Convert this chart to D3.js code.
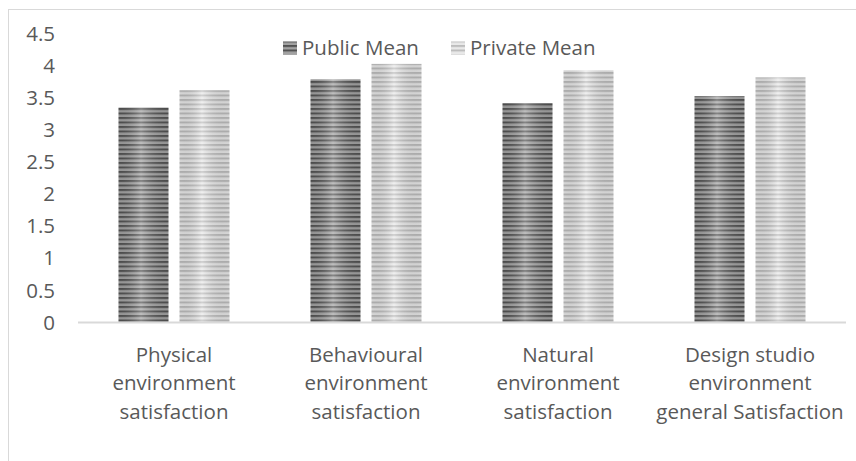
<!DOCTYPE html>
<html>
<head>
<meta charset="utf-8">
<script src="https://cdn.jsdelivr.net/npm/d3@7"></script>
<style>
  html, body { margin: 0; padding: 0; background: #fff; }
  svg { display: block; }
  text { font-family: "Open Sans", "Noto Sans", sans-serif; fill: #595959; }
</style>
</head>
<body>
<svg id="chart" width="856" height="461"></svg>
<script>
const categories = [
  ["Physical", "environment", "satisfaction"],
  ["Behavioural", "environment", "satisfaction"],
  ["Natural", "environment", "satisfaction"],
  ["Design studio", "environment", "general Satisfaction"]
];
const seriesNames = ["Public Mean", "Private Mean"];
const publicMean = [3.34, 3.78, 3.41, 3.52];
const privateMean = [3.61, 4.02, 3.92, 3.81];
const yTicks = [0, 0.5, 1, 1.5, 2, 2.5, 3, 3.5, 4, 4.5];

const FS = 20.5;
const svg = d3.select("#chart");
const plot = { left: 78, right: 846, top: 33.1, bottom: 322 };

// patterns
const defs = svg.append("defs");
function stripePattern(id, bg, line) {
  const p = defs.append("pattern").attr("id", id)
    .attr("patternUnits", "userSpaceOnUse").attr("width", 10).attr("height", 4.5);
  p.append("rect").attr("width", 10).attr("height", 4.5).attr("fill", bg);
  p.append("rect").attr("y", 0).attr("width", 10).attr("height", 2).attr("fill", line);
}
stripePattern("pubPat", "#a3a3a3", "#525252");
stripePattern("privPat", "#e9e9e9", "#bdbdbd");
const sh = defs.append("linearGradient").attr("id", "shade").attr("x1", 0).attr("x2", 1).attr("y1", 0).attr("y2", 0);
sh.append("stop").attr("offset", "0").attr("stop-color", "#000").attr("stop-opacity", 0.08);
sh.append("stop").attr("offset", "0.45").attr("stop-color", "#fff").attr("stop-opacity", 0.3);
sh.append("stop").attr("offset", "1").attr("stop-color", "#000").attr("stop-opacity", 0.08);

// border
svg.append("rect").attr("x", 8.5).attr("y", 9.5).attr("width", 900).attr("height", 500)
  .attr("fill", "none").attr("stroke", "#d9d9d9").attr("stroke-width", 1);

const x0 = d3.scaleBand().domain(d3.range(categories.length)).range([plot.left, plot.right]).padding(0);
const groupW = 111;
const x1 = d3.scaleBand().domain(seriesNames).range([0, groupW]).paddingInner(11 / 61).paddingOuter(0);
const y = d3.scaleLinear().domain([0, 4.5]).range([plot.bottom, plot.top]);

// y tick labels
const yAxis = d3.axisLeft(y).tickValues(yTicks).tickSize(0).tickPadding(0).tickFormat(d3.format("~g"));
const gy = svg.append("g").attr("transform", "translate(55,0)").call(yAxis);
gy.select(".domain").remove();
gy.selectAll("text").attr("font-size", FS).attr("font-family", "'Open Sans', sans-serif")
  .attr("fill", "#595959").attr("dy", "0.35em");

// bars
const data = categories.map((c, i) => ({ i, vals: [publicMean[i], privateMean[i]] }));
const pats = ["url(#pubPat)", "url(#privPat)"];
const groups = svg.append("g").selectAll("g").data(data).join("g")
  .attr("transform", d => `translate(${x0(d.i) + (x0.bandwidth() - groupW) / 2},0)`);
groups.each(function(d) {
  const g = d3.select(this);
  seriesNames.forEach((s, k) => {
    const v = d.vals[k];
    g.append("rect").attr("x", x1(s)).attr("y", y(v)).attr("width", x1.bandwidth())
      .attr("height", y(0) - y(v)).attr("fill", pats[k]);
    g.append("rect").attr("x", x1(s)).attr("y", y(v)).attr("width", x1.bandwidth())
      .attr("height", y(0) - y(v)).attr("fill", "url(#shade)");
  });
});

// x axis line
svg.append("line").attr("x1", plot.left).attr("x2", plot.right).attr("y1", plot.bottom + 0.5).attr("y2", plot.bottom + 0.5)
  .attr("stroke", "#d9d9d9").attr("stroke-width", 2.2);

// category labels
const xAxis = d3.axisBottom(x0).tickSize(0).tickFormat(() => "");
const gx = svg.append("g").attr("transform", `translate(0,${plot.bottom})`).call(xAxis);
gx.select(".domain").remove();
gx.selectAll(".tick").each(function(d) {
  const t = d3.select(this).append("text").attr("text-anchor", "middle")
    .attr("font-size", FS).attr("fill", "#595959");
  categories[d].forEach((line, j) => {
    t.append("tspan").attr("x", 0).attr("y", 39.5 + j * 28.5).text(line);
  });
});

// legend
const legend = [
  { name: seriesNames[0], pat: pats[0], sx: 283, tx: 302 },
  { name: seriesNames[1], pat: pats[1], sx: 451, tx: 470 }
];
legend.forEach(l => {
  svg.append("rect").attr("x", l.sx).attr("y", 41.5).attr("width", 14).attr("height", 13).attr("fill", l.pat);
  svg.append("text").attr("x", l.tx).attr("y", 55).attr("font-size", FS).text(l.name);
});
</script>
</body>
</html>
